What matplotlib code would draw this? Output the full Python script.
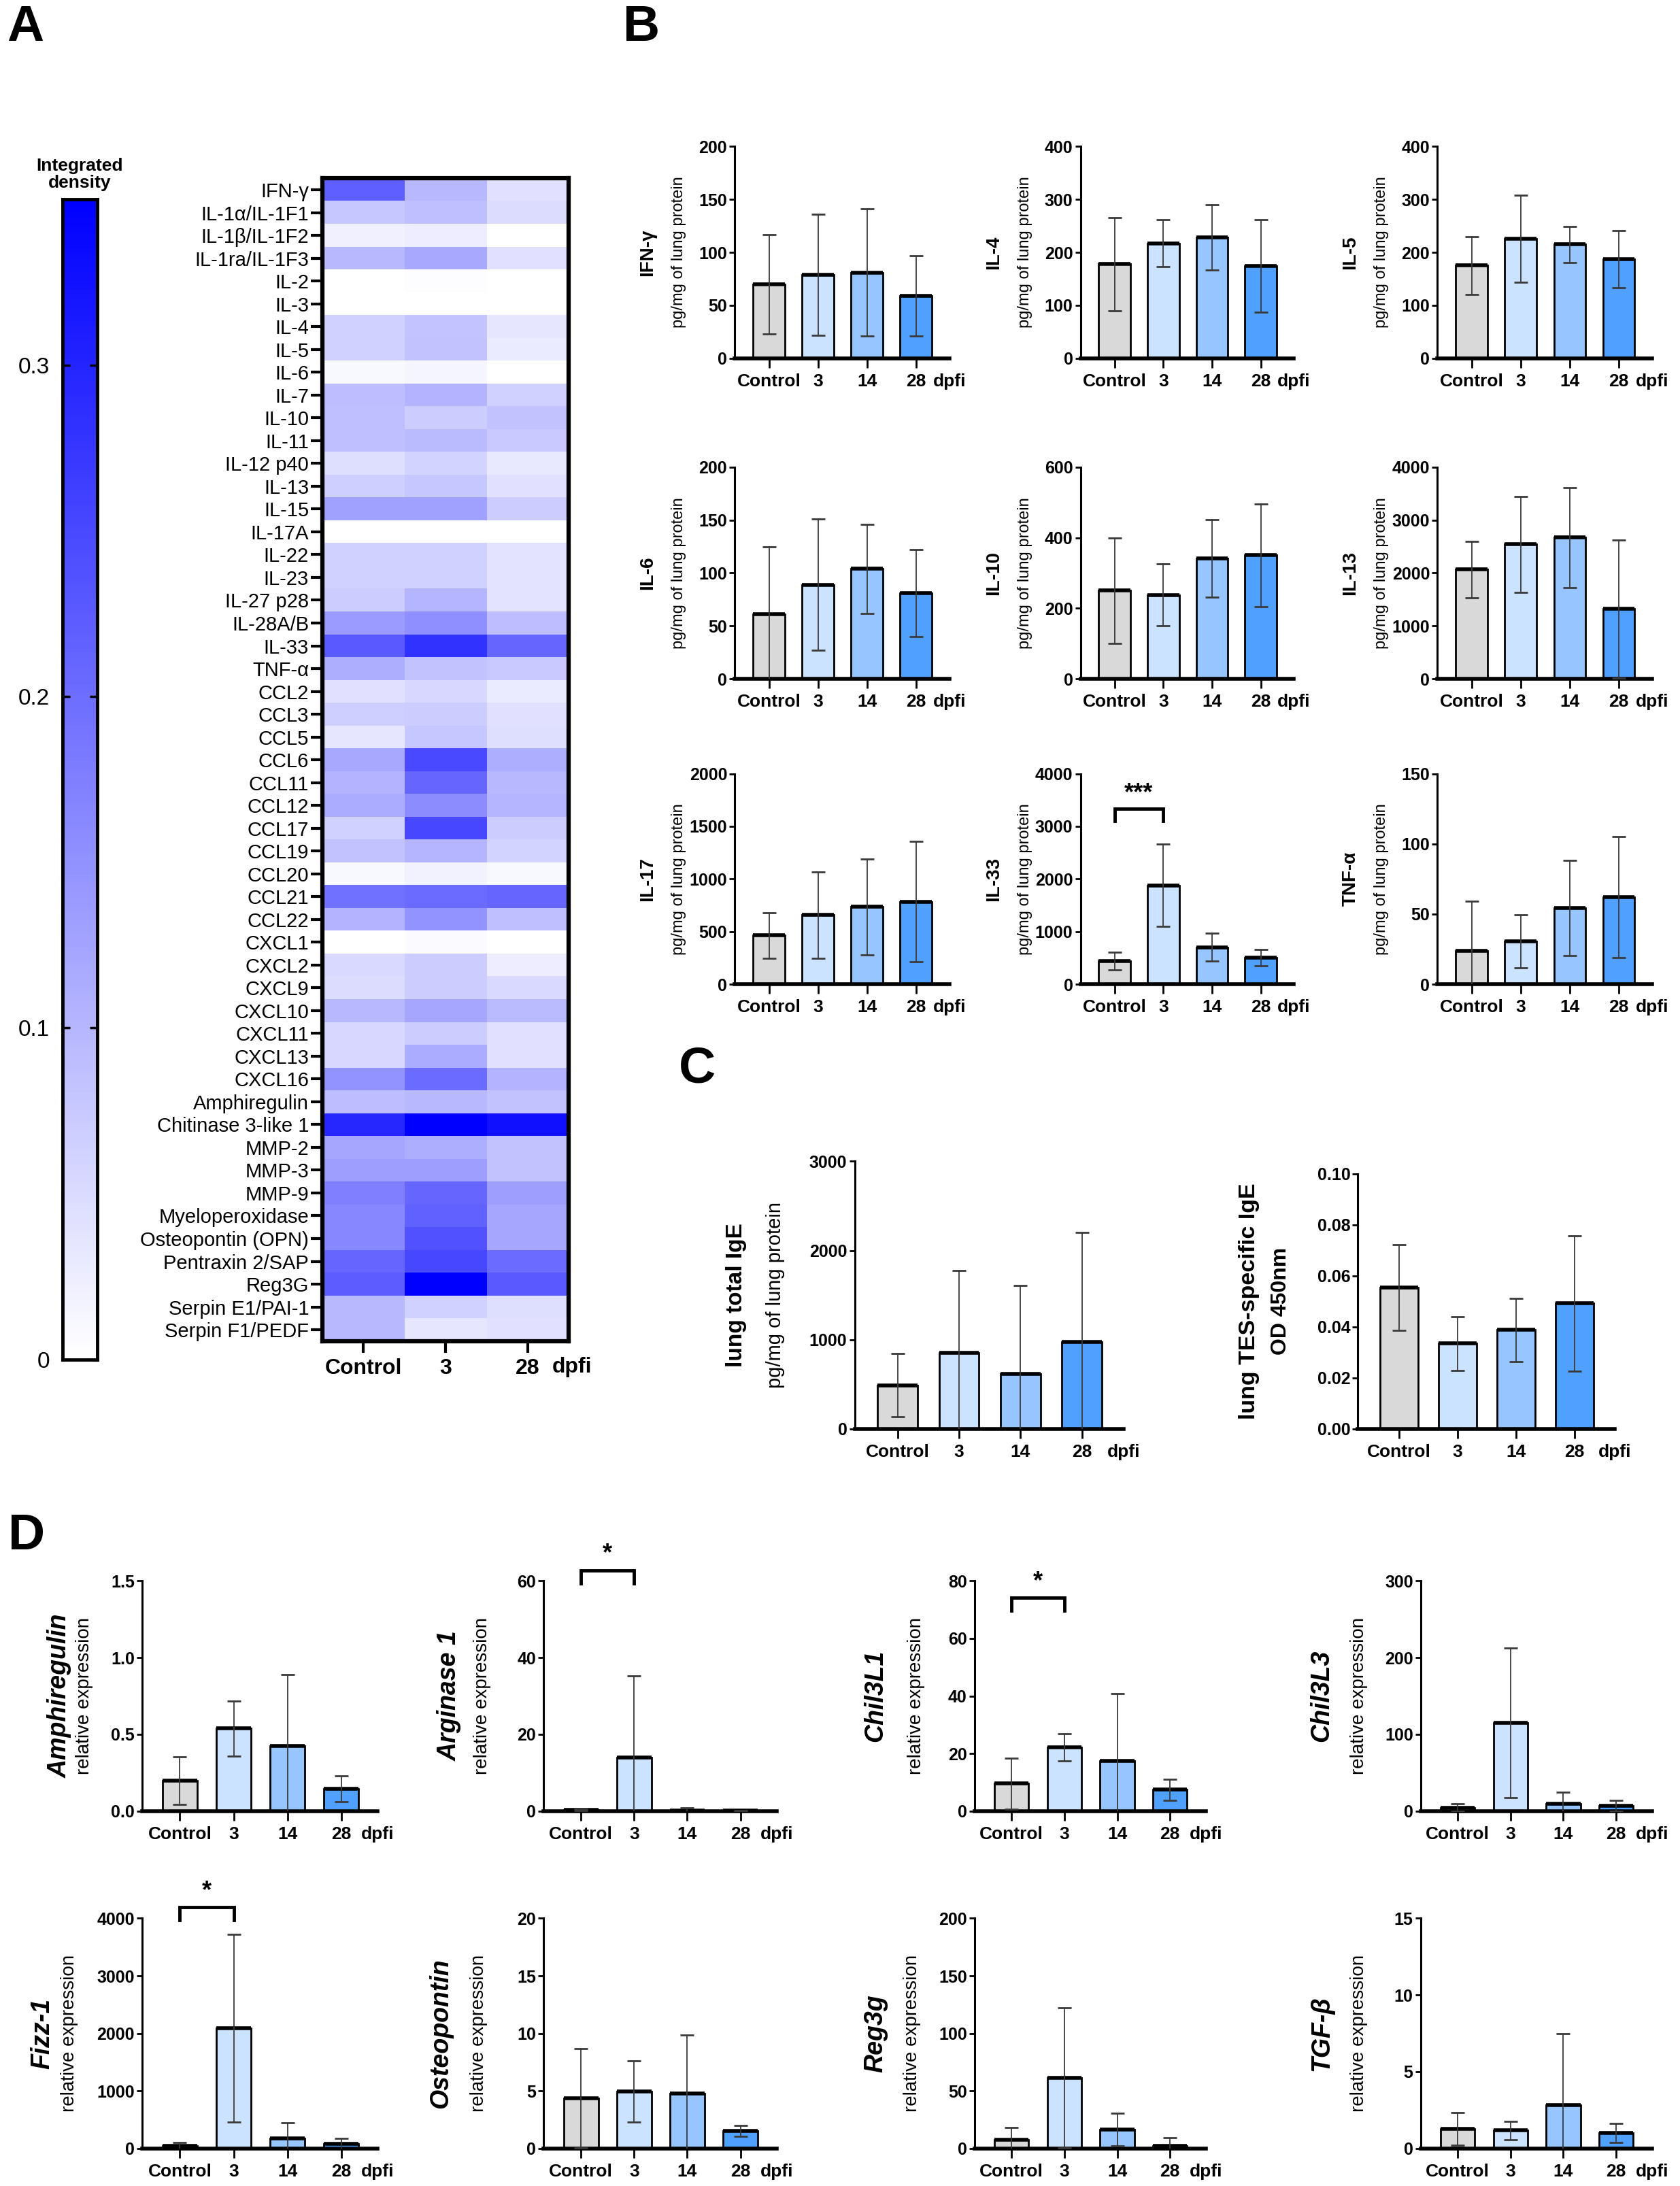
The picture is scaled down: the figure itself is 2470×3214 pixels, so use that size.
import numpy as np
import matplotlib
matplotlib.use("Agg")
import matplotlib.pyplot as plt
from matplotlib import font_manager
from matplotlib.colors import LinearSegmentedColormap

names = {f.name for f in font_manager.fontManager.ttflist}
BASE = 'Liberation Sans' if 'Liberation Sans' in names else 'DejaVu Sans'
NARROW = 'Liberation Sans Narrow' if 'Liberation Sans Narrow' in names else BASE
plt.rcParams['font.family'] = [BASE, 'DejaVu Sans']

# ---------------- data ----------------
groups = ['Control', '3', '14', '28']
heat_groups = ['Control', '3', '28']

analytes = ['IFN-γ', 'IL-1α/IL-1F1', 'IL-1β/IL-1F2', 'IL-1ra/IL-1F3', 'IL-2', 'IL-3',
            'IL-4', 'IL-5', 'IL-6', 'IL-7', 'IL-10', 'IL-11', 'IL-12 p40', 'IL-13',
            'IL-15', 'IL-17A', 'IL-22', 'IL-23', 'IL-27 p28', 'IL-28A/B', 'IL-33',
            'TNF-α', 'CCL2', 'CCL3', 'CCL5', 'CCL6', 'CCL11', 'CCL12', 'CCL17',
            'CCL19', 'CCL20', 'CCL21', 'CCL22', 'CXCL1', 'CXCL2', 'CXCL9', 'CXCL10',
            'CXCL11', 'CXCL13', 'CXCL16', 'Amphiregulin', 'Chitinase 3-like 1',
            'MMP-2', 'MMP-3', 'MMP-9', 'Myeloperoxidase', 'Osteopontin (OPN)',
            'Pentraxin 2/SAP', 'Reg3G', 'Serpin E1/PAI-1', 'Serpin F1/PEDF']

heat_control = [0.220, 0.077, 0.021, 0.098, 0.0, 0.0, 0.063, 0.063, 0.010, 0.091,
                0.088, 0.088, 0.046, 0.067, 0.130, 0.0, 0.063, 0.063, 0.070, 0.137,
                0.228, 0.112, 0.042, 0.067, 0.035, 0.119, 0.105, 0.116, 0.063, 0.084,
                0.010, 0.193, 0.105, 0.0, 0.053, 0.049, 0.098, 0.056, 0.056, 0.147,
                0.091, 0.298, 0.123, 0.133, 0.175, 0.165, 0.165, 0.210, 0.224, 0.098,
                0.098]
heat_d3 = [0.098, 0.088, 0.025, 0.119, 0.004, 0.0, 0.081, 0.084, 0.014, 0.105,
           0.070, 0.095, 0.060, 0.077, 0.130, 0.0, 0.063, 0.063, 0.102, 0.154,
           0.280, 0.084, 0.056, 0.070, 0.077, 0.249, 0.210, 0.158, 0.252, 0.102,
           0.018, 0.203, 0.147, 0.007, 0.070, 0.070, 0.123, 0.070, 0.116, 0.203,
           0.098, 0.350, 0.112, 0.133, 0.210, 0.217, 0.238, 0.252, 0.350, 0.063,
           0.035]
heat_d28 = [0.042, 0.049, 0.0, 0.042, 0.0, 0.0, 0.035, 0.028, 0.0, 0.063,
            0.084, 0.074, 0.032, 0.042, 0.070, 0.0, 0.039, 0.039, 0.039, 0.091,
            0.210, 0.074, 0.028, 0.042, 0.046, 0.112, 0.098, 0.102, 0.070, 0.060,
            0.010, 0.210, 0.088, 0.0, 0.025, 0.053, 0.095, 0.042, 0.042, 0.105,
            0.084, 0.326, 0.084, 0.084, 0.133, 0.123, 0.123, 0.203, 0.228, 0.046,
            0.042]

ifng_mean = [70, 79, 81, 59]
ifng_sd = [47, 57, 60, 38]
il4_mean = [178, 217, 228, 174]
il4_sd = [88, 44, 62, 87]
il5_mean = [175, 226, 215, 187]
il5_sd = [54, 82, 34, 54]
il6_mean = [61, 89, 104, 81]
il6_sd = [64, 62, 42, 41]
il10_mean = [250, 238, 342, 350]
il10_sd = [150, 88, 110, 145]
il13_mean = [2064, 2540, 2668, 1319]
il13_sd = [530, 910, 940, 1300]
il17_mean = [463, 657, 736, 785]
il17_sd = [215, 410, 455, 570]
il33_mean = [442, 1879, 700, 506]
il33_sd = [170, 780, 265, 160]
tnfa_mean = [24, 30.5, 54.5, 62]
tnfa_sd = [35, 19, 34, 43]

total_ige_mean = [489, 853, 617, 976]
total_ige_sd = [355, 925, 990, 1230]
tes_ige_mean = [0.0555, 0.0335, 0.0388, 0.0492]
tes_ige_sd = [0.0168, 0.0106, 0.0124, 0.0265]

areg_mean = [0.198, 0.539, 0.424, 0.145]
areg_sd = [0.155, 0.18, 0.464, 0.083]
arg1_mean = [0.3, 13.9, 0.1, 0.05]
arg1_sd = [0.2, 21.3, 0.65, 0.05]
chil3l1_mean = [9.5, 22.1, 17.3, 7.4]
chil3l1_sd = [8.8, 4.8, 23.5, 3.7]
chil3l3_mean = [4.4, 114.8, 9.8, 6.5]
chil3l3_sd = [4.8, 97.8, 15, 7]
fizz1_mean = [39, 2091, 173, 75]
fizz1_sd = [67, 1635, 276, 102]
opn_mean = [4.35, 4.95, 4.77, 1.52]
opn_sd = [4.3, 2.66, 5.1, 0.45]
reg3g_mean = [7.5, 61.2, 16.3, 2.2]
reg3g_sd = [10.6, 61, 14.4, 7]
tgfb_mean = [1.27, 1.18, 2.82, 1.0]
tgfb_sd = [1.07, 0.6, 4.65, 0.62]

bar_colors = ['#d9d9d9', '#cce3ff', '#96c5ff', '#4fa0ff']

# ---------------- layout helpers ----------------
W, H = 1205.0, 1568.0
fig = plt.figure(figsize=(24.7, 32.14), dpi=100)


def rect(x0, x1, ytop, ybot):
    return [x0 / W, 1 - ybot / H, (x1 - x0) / W, (ybot - ytop) / H]


def bar_chart(box, means, sds, ymax, step, title, sub, fmt='{:g}',
              tdx=92, sdx=59, tsize=20, ssize=17, italic=False, subbold=False):
    ax = fig.add_axes(rect(*box))
    x = np.arange(len(groups))
    w = 0.65
    ax.bar(x, means, width=w, color=bar_colors, edgecolor='black', linewidth=2, zorder=2)
    ax.hlines(means, x - w / 2, x + w / 2, color='black', lw=4, zorder=2.5)
    ax.errorbar(x, means, yerr=sds, fmt='none', ecolor='#3a3a3a', elinewidth=1.3,
                capsize=7, capthick=2, zorder=3)
    ax.set_xlim(-0.7, 3.68)
    ax.set_ylim(0, ymax)
    ticks = np.arange(0, ymax + step / 2, step)
    ax.set_yticks(ticks)
    ax.set_yticklabels([fmt.format(t) for t in ticks], family=NARROW,
                       fontweight='bold', fontsize=18)
    ax.set_xticks(x)
    ax.set_xticklabels(groups, family=NARROW, fontweight='bold', fontsize=19)
    for s in ['top', 'right']:
        ax.spines[s].set_visible(False)
    ax.spines['left'].set_linewidth(2.2)
    ax.spines['bottom'].set_linewidth(4)
    ax.tick_params(axis='y', length=6, width=2, pad=2)
    ax.tick_params(axis='x', length=10, width=2, pad=6)
    ax.annotate('dpfi', xy=(3.68, 0), xycoords=('data', 'axes fraction'),
                xytext=(0, -16), textcoords='offset points', ha='center', va='top',
                family=NARROW, fontweight='bold', fontsize=19)
    ax.annotate(title, xy=(0, 0.5), xycoords='axes fraction', xytext=(-tdx, 0),
                textcoords='offset points', rotation=90, ha='center', va='center',
                fontsize=tsize, fontweight='bold',
                fontstyle='italic' if italic else 'normal')
    ax.annotate(sub, xy=(0, 0.5), xycoords='axes fraction', xytext=(-sdx, 0),
                textcoords='offset points', rotation=90, ha='center', va='center',
                fontsize=ssize, fontweight='bold' if subbold else 'normal')
    return ax


def add_sig(ax, ybar, yleg, ystar, text):
    ax.plot([0, 0, 1, 1], [yleg, ybar, ybar, yleg], color='black', lw=3.5,
            clip_on=False, zorder=5, solid_joinstyle='miter')
    ax.text(0.5, ystar, text, ha='center', va='center', fontsize=26,
            fontweight='bold', clip_on=False)


# ---------------- panel A ----------------
cmap = LinearSegmentedColormap.from_list('wb', ['#ffffff', '#0000ff'])
heat = np.column_stack([heat_control, heat_d3, heat_d28])

axh = fig.add_axes(rect(231, 408, 128, 962))
axh.imshow(heat, cmap=cmap, vmin=0, vmax=0.35, aspect='auto', interpolation='nearest')
axh.set_yticks(np.arange(len(analytes)))
axh.set_yticklabels(analytes, fontsize=21)
axh.set_xticks(np.arange(len(heat_groups)))
axh.set_xticklabels(heat_groups, fontsize=23, fontweight='bold')
axh.tick_params(axis='y', length=12, width=3, pad=2)
axh.tick_params(axis='x', length=12, width=3, pad=6)
for s in axh.spines.values():
    s.set_linewidth(4.5)
axh.annotate('dpfi', xy=(2.3, 0), xycoords=('data', 'axes fraction'),
             xytext=(0, -17), textcoords='offset points', ha='left', va='top',
             fontsize=23, fontweight='bold', annotation_clip=False)

axc = fig.add_axes(rect(45, 70, 143, 975))
grad = np.linspace(0, 0.35, 256)[:, None]
axc.imshow(grad, cmap=cmap, vmin=0, vmax=0.35, aspect='auto', origin='lower',
           extent=[0, 1, 0, 0.35])
axc.set_xticks([])
axc.set_yticks([0, 0.1, 0.2, 0.3])
axc.set_yticklabels(['0', '0.1', '0.2', '0.3'], fontsize=24)
axc.tick_params(axis='y', direction='in', left=True, right=True, length=8, width=2.5, pad=14)
for s in axc.spines.values():
    s.set_linewidth(3.5)
fig.text(57 / W, 1 - 125 / H, 'Integrated\ndensity', ha='center', va='center',
         fontsize=19, fontweight='bold', linespacing=1.05)

# ---------------- panel B ----------------
cols_b = [(527, 681), (775, 928), (1031, 1185)]
rows_b = [(105, 257), (335, 487), (555, 706)]
sub_b = 'pg/mg of lung protein'
b_specs = [
    (ifng_mean, ifng_sd, 200, 50, 'IFN-γ'),
    (il4_mean, il4_sd, 400, 100, 'IL-4'),
    (il5_mean, il5_sd, 400, 100, 'IL-5'),
    (il6_mean, il6_sd, 200, 50, 'IL-6'),
    (il10_mean, il10_sd, 600, 200, 'IL-10'),
    (il13_mean, il13_sd, 4000, 1000, 'IL-13'),
    (il17_mean, il17_sd, 2000, 500, 'IL-17'),
    (il33_mean, il33_sd, 4000, 1000, 'IL-33'),
    (tnfa_mean, tnfa_sd, 150, 50, 'TNF-α'),
]
b_axes = []
for i, (m, sd, ymax, step, name) in enumerate(b_specs):
    r, c = divmod(i, 3)
    box = (cols_b[c][0], cols_b[c][1], rows_b[r][0], rows_b[r][1])
    b_axes.append(bar_chart(box, m, sd, ymax, step, name, sub_b))
add_sig(b_axes[7], 3340, 3100, 3620, '***')

# ---------------- panel C ----------------
bar_chart((613, 806, 833, 1025), total_ige_mean, total_ige_sd, 3000, 1000,
          'lung total IgE', 'pg/mg of lung protein', tdx=125, sdx=84, tsize=24, ssize=21)
bar_chart((974, 1158, 842, 1025), tes_ige_mean, tes_ige_sd, 0.10, 0.02,
          'lung TES-specific IgE', 'OD 450nm', fmt='{:.2f}', tdx=115, sdx=82,
          tsize=24.5, ssize=23, subbold=True)

# ---------------- panel D ----------------
cols_d = [(102, 271), (390, 557), (699, 865), (1019, 1185)]
rows_d = [(1134, 1299), (1376, 1541)]
d_specs = [
    (areg_mean, areg_sd, 1.5, 0.5, 'Amphiregulin', '{:.1f}', 87, 61),
    (arg1_mean, arg1_sd, 60, 20, 'Arginase 1', '{:g}', 100, 65),
    (chil3l1_mean, chil3l1_sd, 80, 20, 'Chil3L1', '{:g}', 105, 62),
    (chil3l3_mean, chil3l3_sd, 300, 100, 'Chil3L3', '{:g}', 105, 65),
    (fizz1_mean, fizz1_sd, 4000, 1000, 'Fizz-1', '{:g}', 106, 77),
    (opn_mean, opn_sd, 20, 5, 'Osteopontin', '{:g}', 109, 69),
    (reg3g_mean, reg3g_sd, 200, 50, 'Reg3g', '{:g}', 105, 66),
    (tgfb_mean, tgfb_sd, 15, 5, 'TGF-β', '{:g}', 105, 65),
]
d_axes = []
for i, (m, sd, ymax, step, name, fmt, tdx, sdx) in enumerate(d_specs):
    r, c = divmod(i, 4)
    box = (cols_d[c][0], cols_d[c][1], rows_d[r][0], rows_d[r][1])
    d_axes.append(bar_chart(box, m, sd, ymax, step, name, 'relative expression',
                            fmt=fmt, tdx=tdx, sdx=sdx, tsize=27, ssize=20, italic=True))
add_sig(d_axes[1], 62.8, 59.3, 67.0, '*')
add_sig(d_axes[2], 74.2, 69.8, 79.6, '*')
add_sig(d_axes[4], 4189, 3968, 4470, '*')

# ---------------- panel letters ----------------
for lab, x, y in [('A', 5, 3), ('B', 447, 3), ('C', 487, 750), ('D', 6, 1085)]:
    fig.text(x / W, 1 - y / H, lab, ha='left', va='top', fontsize=54, fontweight='bold')

fig.savefig('out.png', dpi=100)
